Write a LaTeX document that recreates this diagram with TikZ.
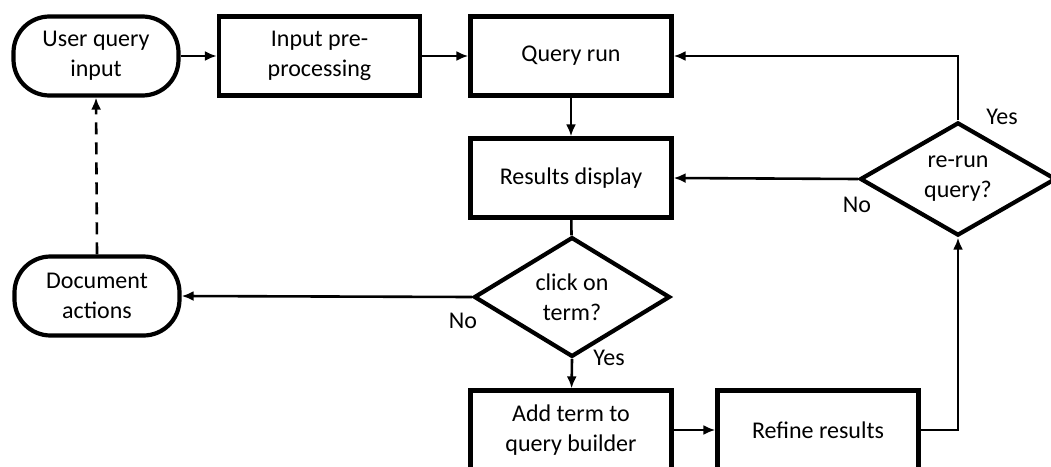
\documentclass[tikz,border=0pt]{standalone}
\usepackage{fontspec}
\setmainfont{Carlito}
\usetikzlibrary{shapes.geometric,arrows.meta}

\begin{document}
\begin{tikzpicture}[x=1pt, y=-1pt,
	>={Latex[length=12pt,width=10pt]},
	font=\fontsize{24}{30}\selectfont,
	stepbox/.style={draw = black,
					line width = 4.2pt,
					shape = rectangle,
					minimum width = 201pt,
					minimum height = 79pt,
					align = center},
	endbox/.style={stepbox,
				   minimum width = 165pt,
				   rounded corners = 36pt},
	choice/.style={draw = black,
				   line width = 4.2pt,
				   shape = diamond,
				   inner sep = 0pt,
				   minimum width = 196pt,
				   minimum height = 100pt,
				   align = center},
	link/.style={line width = 2.6pt}]

	\useasboundingbox (0,0) rectangle (1051,466);

	\draw (96,56) node[endbox] (userq) {User query\\input};

	\draw (319.5,56) node[stepbox] (prep) {Input pre-\\processing};

	\draw (571,56) node[stepbox] (qrun) {Query run};

	\draw (571,178) node[stepbox] (resdisp) {Results display};

	\draw (572,297) node[choice] (click) {click on\\term?};

	\draw (97,296) node[endbox] (docact) {Document\\actions};

	\draw (571,430) node[stepbox] (addterm) {Add term to\\query builder};

	\draw (818,430) node[stepbox] (refine) {Refine results};

	\draw (958,179) node[choice] (rerun) {re-run\\query?};

	\draw[link, ->] (userq) -- (prep);
	\draw[link, ->] (prep) -- (qrun);
	\draw[link, ->] (qrun) -- (resdisp);
	\draw[link] (resdisp) -- (click);
	\draw[link, ->] (click.west) -- (docact.east);
	\draw[link, ->] (click.south) -- (addterm);
	\draw[link, ->] (addterm) -- (refine);
	\draw[link, ->] (refine.east) -| (rerun.south);
	\draw[link, ->] (rerun.north) |- (qrun.east);
	\draw[link, ->] (rerun.west) -- (resdisp.east);
	\draw[link, dash pattern=on 12pt off 8pt, ->] (docact.north) -- (userq.south);

	\node (noclick) at (463,321) {No};
	\node (yesclick) at (609,358) {Yes};
	\node (norerun) at (857,205) {No};
	\node (yesrerun) at (1002,117) {Yes};
\end{tikzpicture}
\end{document}
